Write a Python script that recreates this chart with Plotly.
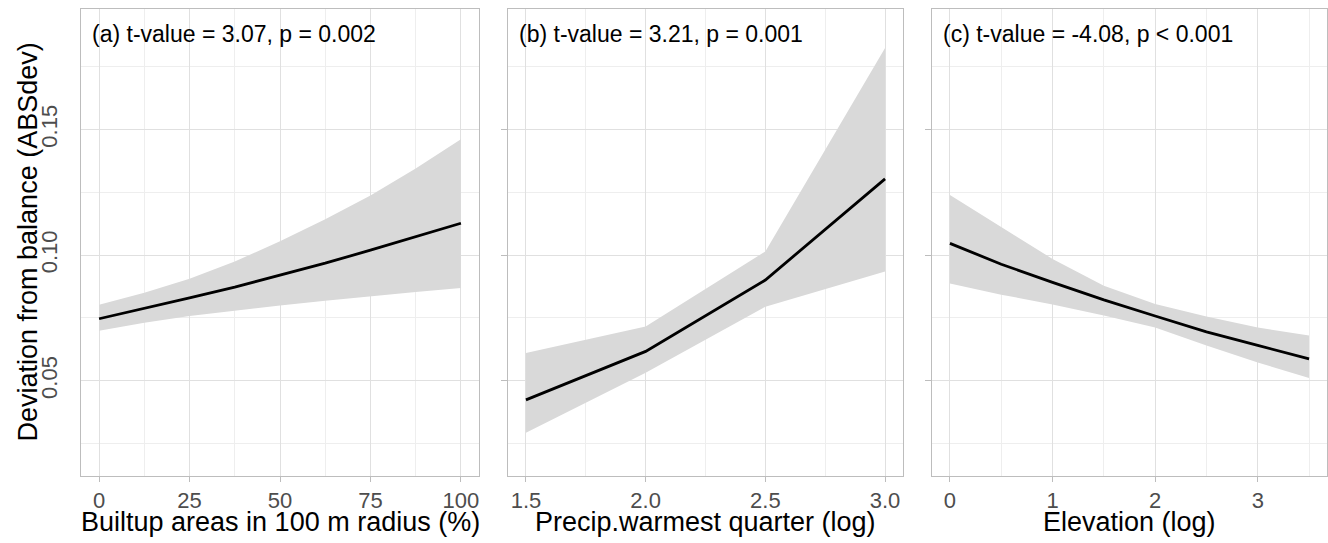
import plotly.graph_objects as go
from plotly.subplots import make_subplots

# Panel (a): Builtup areas
a_x = [0, 12.5, 25, 37.5, 50, 62.5, 75, 87.5, 100]
a_fit = [0.0747, 0.0787, 0.0830, 0.0873, 0.0919, 0.0968, 0.1020, 0.1072, 0.1127]
a_upper = [0.0803, 0.0850, 0.0906, 0.0975, 0.1055, 0.1143, 0.1238, 0.1345, 0.1462]
a_lower = [0.0699, 0.0731, 0.0758, 0.0780, 0.0800, 0.0819, 0.0837, 0.0853, 0.0869]

# Panel (b): Precip. warmest quarter
b_x = [1.5, 2.0, 2.5, 3.0]
b_fit = [0.0424, 0.0617, 0.0901, 0.1304]
b_upper = [0.0611, 0.0716, 0.1015, 0.1825]
b_lower = [0.0293, 0.0532, 0.0795, 0.0935]

# Panel (c): Elevation
c_x = [0, 0.5, 1, 1.5, 2, 2.5, 3, 3.5]
c_fit = [0.1047, 0.0964, 0.0892, 0.0822, 0.0758, 0.0695, 0.0641, 0.0587]
c_upper = [0.1240, 0.1114, 0.0985, 0.0878, 0.0806, 0.0756, 0.0712, 0.0680]
c_lower = [0.0887, 0.0843, 0.0804, 0.0760, 0.0712, 0.0640, 0.0573, 0.0511]

labels = ["(a) t-value = 3.07, p = 0.002",
          "(b) t-value = 3.21, p = 0.001",
          "(c) t-value = -4.08, p < 0.001"]
x_titles = ["Builtup areas in 100 m radius (%)",
            "Precip.warmest quarter (log)",
            "Elevation (log)"]
y_title = "Deviation from balance (ABSdev)"

x_ranges = [[-5, 105], [1.425, 3.075], [-0.175, 3.675]]
x_ticks = [[0, 25, 50, 75, 100], [1.5, 2.0, 2.5, 3.0], [0, 1, 2, 3]]
x_ticktext = [["0", "25", "50", "75", "100"], ["1.5", "2.0", "2.5", "3.0"], ["0", "1", "2", "3"]]
x_minor = [[12.5, 37.5, 62.5, 87.5], [1.75, 2.25, 2.75], [0.5, 1.5, 2.5, 3.5]]
y_range = [0.0121, 0.198]
y_ticks = [0.05, 0.10, 0.15]
y_ticktext = ["0.05", "0.10", "0.15"]
y_minor = [0.025, 0.075, 0.125, 0.175]

FONT = "Liberation Sans, Arial, sans-serif"
FILL = "#d9d9d9"
BORDER = "#bdbdbd"
GRID = "#e0e0e0"
MINOR = "#eeeeee"

fig = make_subplots(rows=1, cols=3, shared_yaxes=False)

panels = [(a_x, a_fit, a_upper, a_lower), (b_x, b_fit, b_upper, b_lower), (c_x, c_fit, c_upper, c_lower)]
for i, (xs, fit, up, lo) in enumerate(panels):
    col = i + 1
    fig.add_trace(go.Scatter(x=xs + xs[::-1], y=up + lo[::-1], fill="toself",
                             fillcolor=FILL, line=dict(width=0), mode="lines",
                             hoverinfo="skip", showlegend=False), row=1, col=col)
    fig.add_trace(go.Scatter(x=xs, y=fit, mode="lines", line=dict(color="black", width=2.8),
                             showlegend=False), row=1, col=col)

W = 1246.0
H = 467.0
domains = [[0, (479 - 81) / W], [(508 - 81) / W, (903 - 81) / W], [(932 - 81) / W, 1.0]]

for i in range(3):
    col = i + 1
    fig.update_xaxes(row=1, col=col, domain=domains[i], range=x_ranges[i],
                     tickmode="array", tickvals=x_ticks[i], ticktext=x_ticktext[i],
                     showgrid=True, gridcolor=GRID, gridwidth=1,
                     minor=dict(tickmode="array", tickvals=x_minor[i], showgrid=True,
                                gridcolor=MINOR, gridwidth=1, ticks=""),
                     showline=True, mirror=True, linecolor=BORDER, linewidth=1,
                     ticks="outside", ticklen=5, tickcolor=BORDER,
                     ticklabelstandoff=0,
                     tickfont=dict(family=FONT, size=22, color="#4d4d4d"),
                     automargin=False, zeroline=False)
    # panel (a) labels pushed out with a transparent longer tick; visible ticks on overlay axis
    fig.update_yaxes(row=1, col=col, range=y_range,
                     tickmode="array", tickvals=y_ticks, ticktext=y_ticktext,
                     showticklabels=(i == 0), tickangle=-90,
                     showgrid=True, gridcolor=GRID, gridwidth=1,
                     minor=dict(tickmode="array", tickvals=y_minor, showgrid=True,
                                gridcolor=MINOR, gridwidth=1, ticks=""),
                     showline=True, mirror=True, linecolor=BORDER, linewidth=1,
                     ticks="outside", ticklen=(14 if i == 0 else 6),
                     tickcolor=("rgba(0,0,0,0)" if i == 0 else BORDER),
                     tickfont=dict(family=FONT, size=22, color="#4d4d4d"),
                     automargin=False, zeroline=False)
    xref = "x domain" if i == 0 else f"x{col} domain"
    yref = "y domain" if i == 0 else f"y{col} domain"
    fig.add_annotation(text=labels[i], xref=xref, yref=yref, x=0.022, y=0.947,
                       xanchor="left", yanchor="middle", showarrow=False,
                       font=dict(family=FONT, size=23, color="black"))
    # x-axis title
    fig.add_annotation(text=x_titles[i], xref=xref, yref="paper", x=0.5, y=(476 - 522) / H,
                       xanchor="center", yanchor="middle", showarrow=False,
                       font=dict(family=FONT, size=27, color="black"))

# overlay axis for the visible short ticks of panel (a)
fig.update_layout(yaxis4=dict(overlaying="y", anchor="x", side="left", range=y_range,
                              tickmode="array", tickvals=y_ticks, showticklabels=False,
                              ticks="outside", ticklen=6, tickcolor=BORDER,
                              showgrid=False, showline=False, zeroline=False,
                              automargin=False))

# y-axis title
fig.add_annotation(text=y_title, xref="paper", yref="paper", x=(27 - 81) / W, y=0.5,
                   xanchor="center", yanchor="middle", textangle=-90, showarrow=False,
                   font=dict(family=FONT, size=27, color="black"))

fig.update_layout(width=1328, height=543, margin=dict(l=81, r=1, t=9, b=67),
                  plot_bgcolor="white", paper_bgcolor="white",
                  font=dict(family=FONT), showlegend=False)

fig.write_html("out.html", config={"displayModeBar": False},
               post_script="document.body.style.margin='0';document.body.style.overflow='hidden';")
